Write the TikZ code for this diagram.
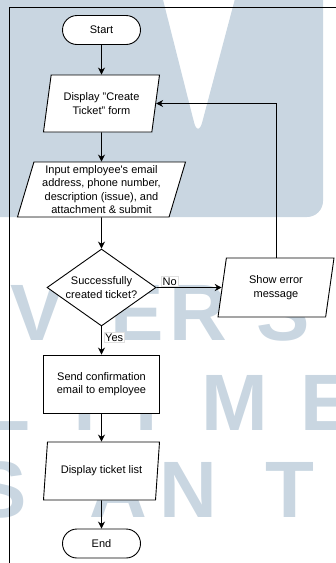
\documentclass[tikz,border=0pt]{standalone}
\usepackage{fontspec}
\setmainfont{Liberation Sans}
\definecolor{umnWash}{HTML}{C9D6E1}
\usetikzlibrary{arrows.meta,shapes.geometric,positioning}

\begin{document}
\begin{tikzpicture}[
  x=1pt,y=-1pt,
  font=\fontsize{11}{13.5}\selectfont,
  line width=0.9pt,
  term/.style={draw,fill=white,rounded corners=14.5pt,minimum width=78pt,
               minimum height=29pt,align=center},
  io/.style={draw,fill=white,trapezium,trapezium left angle=72,
             trapezium right angle=108,trapezium stretches body,
             minimum height=57pt,inner xsep=0pt,inner ysep=1pt,align=center},
  proc/.style={draw,fill=white,minimum width=116pt,minimum height=58pt,align=center},
  decision/.style={draw,fill=white,diamond,minimum width=109pt,minimum height=77pt,
                   inner sep=0pt},
  tag/.style={fill=white,draw=black!12,line width=0.4pt,inner sep=1pt},
  wmark/.style={text=umnWash,font=\fontsize{80}{80}\bfseries\selectfont,anchor=base,
                inner sep=0pt},
  >={Stealth[length=7pt,width=7pt]}
]
\useasboundingbox (0,0) rectangle (336,563);

% watermark behind the chart
\begin{scope}
  \clip (0,0) rectangle (336,563);
  \fill[umnWash,rounded corners=16pt] (-20,-20) -- (158,-20) -- (198,138) -- (240,-20)
    -- (323,-20) -- (323,217) -- (193,217) -- (140,217) -- (100,165) -- (55,217)
    -- (-20,217) -- cycle;
  \foreach \ch/\cx/\by [count=\n] in {V/37/340,E/137/340,R/198/340,S/283/340,
      L/6/430,T/85/430,I/147/430,M/235/430,E/327/430,
      S/0/517,A/118/517,N/188/517,T/290/517}
    \node[wmark] (wm\n) at (\cx,\by) {\ch};
\end{scope}

% table cell border
\draw[line width=0.8pt] (336,7.5) -- (9,7.5) -- (9,563);

\node[term] (start) at (101.5,30) {Start};
\node[io,minimum width=116pt] (form) at (101.5,103.5) {Display "Create\\Ticket" form};
\node[io,minimum width=168pt,minimum height=55pt] (input) at (101.5,189.5)
  {Input employee\textquotesingle s email\\address, phone number,\\description (issue), and\\attachment \& submit};
\node[decision] (check) at (101.5,287.5) {};
\node[align=center] (checktxt) at (check.center) {Successfully\\created ticket?};
\node[io,minimum width=116pt,minimum height=59pt] (error) at (276,287.5) {Show error\\message};
\node[proc] (send) at (101.5,384) {Send confirmation\\email to employee};
\node[io,minimum width=116pt,minimum height=58pt] (list) at (101.5,471) {Display ticket list};
\node[term] (end) at (101.5,543.5) {End};

\draw[->] (start) -- (form);
\draw[->] (form) -- (input);
\draw[->] (input) -- (check);
\draw[->] (check) -- node[tag,pos=0,anchor=south west,xshift=5pt,yshift=1pt]{No} (error);
\draw[->] (check) -- node[tag,pos=0,anchor=north west,xshift=2.5pt,yshift=-6pt]{Yes} (send);
\draw[->] (send) -- (list);
\draw[->] (list) -- (end);
\draw[->] (error.north) |- (form.east);
\end{tikzpicture}
\end{document}
